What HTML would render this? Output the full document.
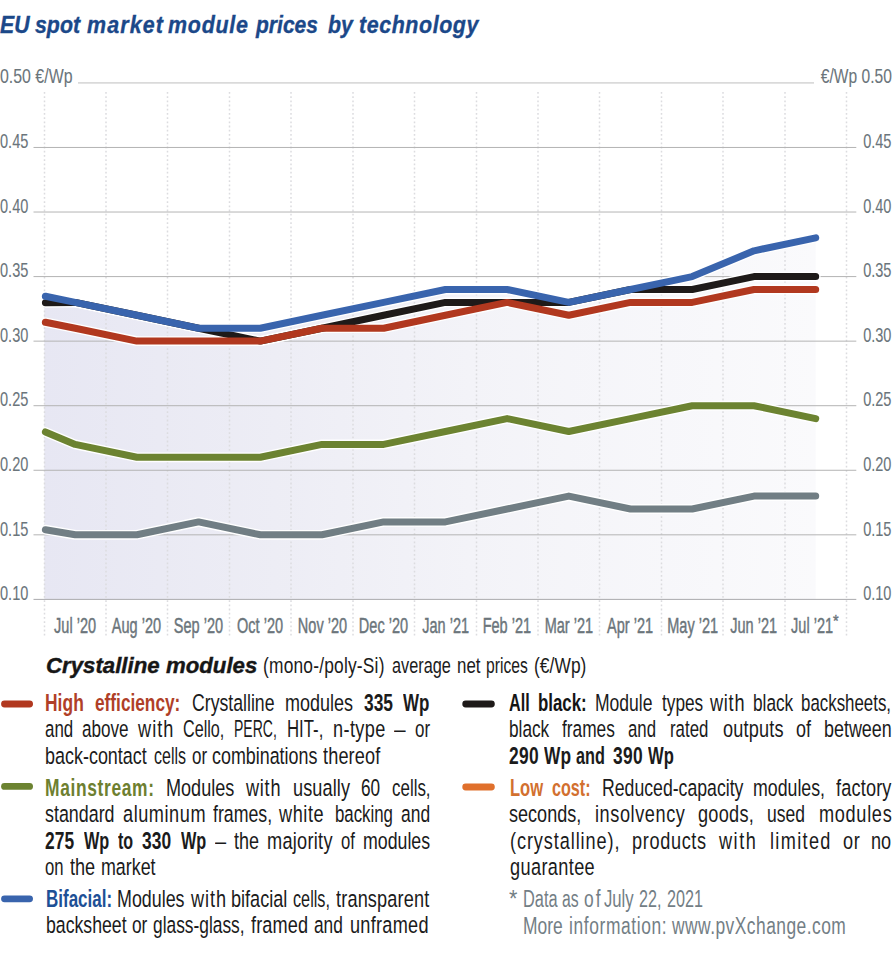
<!DOCTYPE html>
<html><head><meta charset="utf-8"><title>EU spot market module prices by technology</title>
<style>
html,body{margin:0;padding:0;background:#fff;}
body{width:893px;height:967px;position:relative;overflow:hidden;font-family:"Liberation Sans",sans-serif;}
.t{position:absolute;white-space:nowrap;transform-origin:0 0;}
</style></head><body>
<svg width="893" height="967" viewBox="0 0 893 967" style="position:absolute;left:0;top:0">
<defs><linearGradient id="fg" x1="0" y1="0" x2="1" y2="0"><stop offset="0" stop-color="#e7e7f3"/><stop offset="0.3" stop-color="#ededf5"/><stop offset="0.55" stop-color="#f3f3f8"/><stop offset="1" stop-color="#fafafc"/></linearGradient></defs>
<polygon points="44.3,296.3 75.2,302.4 136.9,315.3 198.6,328.2 260.3,328.2 322.0,315.3 383.7,302.4 445.4,289.5 507.1,289.5 568.8,302.4 630.5,289.5 692.2,276.6 754.0,250.8 815.7,237.8 815.7,599.0 44.3,599.0" fill="url(#fg)"/>
<line x1="44.5" y1="92" x2="44.5" y2="636" stroke="#dcdcdf" stroke-width="1.5" stroke-dasharray="1.8 2.4"/>
<line x1="106.0" y1="92" x2="106.0" y2="636" stroke="#dcdcdf" stroke-width="1.5" stroke-dasharray="1.8 2.4"/>
<line x1="167.5" y1="92" x2="167.5" y2="636" stroke="#dcdcdf" stroke-width="1.5" stroke-dasharray="1.8 2.4"/>
<line x1="229.5" y1="92" x2="229.5" y2="636" stroke="#dcdcdf" stroke-width="1.5" stroke-dasharray="1.8 2.4"/>
<line x1="291.0" y1="92" x2="291.0" y2="636" stroke="#dcdcdf" stroke-width="1.5" stroke-dasharray="1.8 2.4"/>
<line x1="353.0" y1="92" x2="353.0" y2="636" stroke="#dcdcdf" stroke-width="1.5" stroke-dasharray="1.8 2.4"/>
<line x1="414.5" y1="92" x2="414.5" y2="636" stroke="#dcdcdf" stroke-width="1.5" stroke-dasharray="1.8 2.4"/>
<line x1="476.5" y1="92" x2="476.5" y2="636" stroke="#dcdcdf" stroke-width="1.5" stroke-dasharray="1.8 2.4"/>
<line x1="538.0" y1="92" x2="538.0" y2="636" stroke="#dcdcdf" stroke-width="1.5" stroke-dasharray="1.8 2.4"/>
<line x1="599.5" y1="92" x2="599.5" y2="636" stroke="#dcdcdf" stroke-width="1.5" stroke-dasharray="1.8 2.4"/>
<line x1="661.5" y1="92" x2="661.5" y2="636" stroke="#dcdcdf" stroke-width="1.5" stroke-dasharray="1.8 2.4"/>
<line x1="723.0" y1="92" x2="723.0" y2="636" stroke="#dcdcdf" stroke-width="1.5" stroke-dasharray="1.8 2.4"/>
<line x1="785.0" y1="92" x2="785.0" y2="636" stroke="#dcdcdf" stroke-width="1.5" stroke-dasharray="1.8 2.4"/>
<line x1="846.5" y1="92" x2="846.5" y2="636" stroke="#dcdcdf" stroke-width="1.5" stroke-dasharray="1.8 2.4"/>
<rect x="78" y="82.15" width="736" height="1.5" fill="#d4d4d4"/>
<rect x="33.5" y="146.96" width="822.8" height="1" fill="#b4b4b4"/>
<rect x="33.5" y="211.52" width="822.8" height="1" fill="#b4b4b4"/>
<rect x="33.5" y="276.08" width="822.8" height="1" fill="#b4b4b4"/>
<rect x="33.5" y="340.64" width="822.8" height="1" fill="#b4b4b4"/>
<rect x="33.5" y="405.20" width="822.8" height="1" fill="#b4b4b4"/>
<rect x="33.5" y="469.76" width="822.8" height="1" fill="#b4b4b4"/>
<rect x="33.5" y="534.32" width="822.8" height="1" fill="#b4b4b4"/>
<rect x="33.5" y="598.88" width="822.8" height="1" fill="#a9a9ad"/>
<polyline points="45.4,302.8 75.2,302.4 136.9,315.3 198.6,328.2 260.3,341.1 322.0,328.2 383.7,315.3 445.4,302.4 507.1,302.4 568.8,302.4 630.5,289.5 692.2,289.5 754.0,276.6 815.7,276.6" fill="none" stroke="#ffffff" stroke-width="9.8" stroke-linejoin="round" stroke-linecap="round"/>
<polyline points="45.4,322.3 75.2,328.2 136.9,341.1 198.6,341.1 260.3,341.1 322.0,328.2 383.7,328.2 445.4,315.3 507.1,302.4 568.8,315.3 630.5,302.4 692.2,302.4 754.0,289.5 815.7,289.5" fill="none" stroke="#ffffff" stroke-width="9.8" stroke-linejoin="round" stroke-linecap="round"/>
<polyline points="45.4,296.3 75.2,302.4 136.9,315.3 198.6,328.2 260.3,328.2 322.0,315.3 383.7,302.4 445.4,289.5 507.1,289.5 568.8,302.4 630.5,289.5 692.2,276.6 754.0,250.8 815.7,237.8" fill="none" stroke="#ffffff" stroke-width="9.8" stroke-linejoin="round" stroke-linecap="round"/>
<polyline points="45.4,431.9 75.2,444.4 136.9,457.3 198.6,457.3 260.3,457.3 322.0,444.4 383.7,444.4 445.4,431.5 507.1,418.6 568.8,431.5 630.5,418.6 692.2,405.7 754.0,405.7 815.7,418.6" fill="none" stroke="#ffffff" stroke-width="9.8" stroke-linejoin="round" stroke-linecap="round"/>
<polyline points="45.4,529.7 75.2,534.8 136.9,534.8 198.6,521.9 260.3,534.8 322.0,534.8 383.7,521.9 445.4,521.9 507.1,509.0 568.8,496.1 630.5,509.0 692.2,509.0 754.0,496.1 815.7,496.1" fill="none" stroke="#ffffff" stroke-width="9.8" stroke-linejoin="round" stroke-linecap="round"/>
<polyline points="45.4,302.8 75.2,302.4 136.9,315.3 198.6,328.2 260.3,341.1 322.0,328.2 383.7,315.3 445.4,302.4 507.1,302.4 568.8,302.4 630.5,289.5 692.2,289.5 754.0,276.6 815.7,276.6" fill="none" stroke="#1e1a19" stroke-width="7" stroke-linejoin="round" stroke-linecap="round"/>
<polyline points="45.4,322.3 75.2,328.2 136.9,341.1 198.6,341.1 260.3,341.1 322.0,328.2 383.7,328.2 445.4,315.3 507.1,302.4 568.8,315.3 630.5,302.4 692.2,302.4 754.0,289.5 815.7,289.5" fill="none" stroke="#b1381f" stroke-width="7" stroke-linejoin="round" stroke-linecap="round"/>
<polyline points="45.4,296.3 75.2,302.4 136.9,315.3 198.6,328.2 260.3,328.2 322.0,315.3 383.7,302.4 445.4,289.5 507.1,289.5 568.8,302.4 630.5,289.5 692.2,276.6 754.0,250.8 815.7,237.8" fill="none" stroke="#3964ad" stroke-width="7" stroke-linejoin="round" stroke-linecap="round"/>
<polyline points="45.4,431.9 75.2,444.4 136.9,457.3 198.6,457.3 260.3,457.3 322.0,444.4 383.7,444.4 445.4,431.5 507.1,418.6 568.8,431.5 630.5,418.6 692.2,405.7 754.0,405.7 815.7,418.6" fill="none" stroke="#6c8331" stroke-width="7" stroke-linejoin="round" stroke-linecap="round"/>
<polyline points="45.4,529.7 75.2,534.8 136.9,534.8 198.6,521.9 260.3,534.8 322.0,534.8 383.7,521.9 445.4,521.9 507.1,509.0 568.8,496.1 630.5,509.0 692.2,509.0 754.0,496.1 815.7,496.1" fill="none" stroke="#717e84" stroke-width="7" stroke-linejoin="round" stroke-linecap="round"/>
<line x1="4.5" y1="704" x2="29.6" y2="704" stroke="#b1381f" stroke-width="6.8" stroke-linecap="round"/>
<line x1="4.5" y1="786.4" x2="29.6" y2="786.4" stroke="#6c8331" stroke-width="6.8" stroke-linecap="round"/>
<line x1="4.5" y1="898.8" x2="29.6" y2="898.8" stroke="#3964ad" stroke-width="6.8" stroke-linecap="round"/>
<line x1="465.7" y1="704" x2="491.4" y2="704" stroke="#1e1a19" stroke-width="6.8" stroke-linecap="round"/>
<line x1="465.7" y1="787" x2="491.4" y2="787" stroke="#e0702c" stroke-width="6.8" stroke-linecap="round"/>
</svg>
<div class="t" style="top:63.49px;font-size:20.8px;line-height:25px;color:#6b757b;left:-0.50px;transform:scaleX(0.7647);-webkit-text-stroke:0.1px #6b757b;">0.50 €/Wp</div>
<div class="t" style="top:63.49px;font-size:20.8px;line-height:25px;color:#6b757b;left:776.50px;width:114.80px;text-align:right;transform:scaleX(0.7489);transform-origin:100% 0;-webkit-text-stroke:0.1px #6b757b;">€/Wp 0.50</div>
<div class="t" style="top:128.15px;font-size:20.8px;line-height:25px;color:#6b757b;left:-0.50px;transform:scaleX(0.7000);-webkit-text-stroke:0.1px #6b757b;">0.45</div>
<div class="t" style="top:128.15px;font-size:20.8px;line-height:25px;color:#6b757b;left:830.82px;width:60.48px;text-align:right;transform:scaleX(0.7000);transform-origin:100% 0;-webkit-text-stroke:0.1px #6b757b;">0.45</div>
<div class="t" style="top:192.71px;font-size:20.8px;line-height:25px;color:#6b757b;left:-0.50px;transform:scaleX(0.7000);-webkit-text-stroke:0.1px #6b757b;">0.40</div>
<div class="t" style="top:192.71px;font-size:20.8px;line-height:25px;color:#6b757b;left:830.82px;width:60.48px;text-align:right;transform:scaleX(0.7000);transform-origin:100% 0;-webkit-text-stroke:0.1px #6b757b;">0.40</div>
<div class="t" style="top:257.27px;font-size:20.8px;line-height:25px;color:#6b757b;left:-0.50px;transform:scaleX(0.7000);-webkit-text-stroke:0.1px #6b757b;">0.35</div>
<div class="t" style="top:257.27px;font-size:20.8px;line-height:25px;color:#6b757b;left:830.82px;width:60.48px;text-align:right;transform:scaleX(0.7000);transform-origin:100% 0;-webkit-text-stroke:0.1px #6b757b;">0.35</div>
<div class="t" style="top:321.83px;font-size:20.8px;line-height:25px;color:#6b757b;left:-0.50px;transform:scaleX(0.7000);-webkit-text-stroke:0.1px #6b757b;">0.30</div>
<div class="t" style="top:321.83px;font-size:20.8px;line-height:25px;color:#6b757b;left:830.82px;width:60.48px;text-align:right;transform:scaleX(0.7000);transform-origin:100% 0;-webkit-text-stroke:0.1px #6b757b;">0.30</div>
<div class="t" style="top:386.39px;font-size:20.8px;line-height:25px;color:#6b757b;left:-0.50px;transform:scaleX(0.7000);-webkit-text-stroke:0.1px #6b757b;">0.25</div>
<div class="t" style="top:386.39px;font-size:20.8px;line-height:25px;color:#6b757b;left:830.82px;width:60.48px;text-align:right;transform:scaleX(0.7000);transform-origin:100% 0;-webkit-text-stroke:0.1px #6b757b;">0.25</div>
<div class="t" style="top:450.95px;font-size:20.8px;line-height:25px;color:#6b757b;left:-0.50px;transform:scaleX(0.7000);-webkit-text-stroke:0.1px #6b757b;">0.20</div>
<div class="t" style="top:450.95px;font-size:20.8px;line-height:25px;color:#6b757b;left:830.82px;width:60.48px;text-align:right;transform:scaleX(0.7000);transform-origin:100% 0;-webkit-text-stroke:0.1px #6b757b;">0.20</div>
<div class="t" style="top:515.51px;font-size:20.8px;line-height:25px;color:#6b757b;left:-0.50px;transform:scaleX(0.7000);-webkit-text-stroke:0.1px #6b757b;">0.15</div>
<div class="t" style="top:515.51px;font-size:20.8px;line-height:25px;color:#6b757b;left:830.82px;width:60.48px;text-align:right;transform:scaleX(0.7000);transform-origin:100% 0;-webkit-text-stroke:0.1px #6b757b;">0.15</div>
<div class="t" style="top:580.07px;font-size:20.8px;line-height:25px;color:#6b757b;left:-0.50px;transform:scaleX(0.7000);-webkit-text-stroke:0.1px #6b757b;">0.10</div>
<div class="t" style="top:580.07px;font-size:20.8px;line-height:25px;color:#6b757b;left:830.82px;width:60.48px;text-align:right;transform:scaleX(0.7000);transform-origin:100% 0;-webkit-text-stroke:0.1px #6b757b;">0.10</div>
<div class="t" style="top:612.55px;font-size:21.5px;line-height:26px;color:#6b757b;left:24.08px;width:102.15px;text-align:center;transform:scaleX(0.6750);transform-origin:50% 0;-webkit-text-stroke:0.45px #6b757b;">Jul ’20</div>
<div class="t" style="top:612.55px;font-size:21.5px;line-height:26px;color:#6b757b;left:80.40px;width:112.92px;text-align:center;transform:scaleX(0.6750);transform-origin:50% 0;-webkit-text-stroke:0.45px #6b757b;">Aug ’20</div>
<div class="t" style="top:612.55px;font-size:21.5px;line-height:26px;color:#6b757b;left:142.11px;width:112.92px;text-align:center;transform:scaleX(0.6750);transform-origin:50% 0;-webkit-text-stroke:0.45px #6b757b;">Sep ’20</div>
<div class="t" style="top:612.55px;font-size:21.5px;line-height:26px;color:#6b757b;left:206.23px;width:108.11px;text-align:center;transform:scaleX(0.6750);transform-origin:50% 0;-webkit-text-stroke:0.45px #6b757b;">Oct ’20</div>
<div class="t" style="top:612.55px;font-size:21.5px;line-height:26px;color:#6b757b;left:265.54px;width:112.90px;text-align:center;transform:scaleX(0.6750);transform-origin:50% 0;-webkit-text-stroke:0.45px #6b757b;">Nov ’20</div>
<div class="t" style="top:612.55px;font-size:21.5px;line-height:26px;color:#6b757b;left:327.25px;width:112.90px;text-align:center;transform:scaleX(0.6750);transform-origin:50% 0;-webkit-text-stroke:0.45px #6b757b;">Dec ’20</div>
<div class="t" style="top:612.55px;font-size:21.5px;line-height:26px;color:#6b757b;left:390.75px;width:109.32px;text-align:center;transform:scaleX(0.6750);transform-origin:50% 0;-webkit-text-stroke:0.45px #6b757b;">Jan ’21</div>
<div class="t" style="top:612.55px;font-size:21.5px;line-height:26px;color:#6b757b;left:451.27px;width:111.71px;text-align:center;transform:scaleX(0.6750);transform-origin:50% 0;-webkit-text-stroke:0.45px #6b757b;">Feb ’21</div>
<div class="t" style="top:612.55px;font-size:21.5px;line-height:26px;color:#6b757b;left:512.99px;width:111.69px;text-align:center;transform:scaleX(0.6750);transform-origin:50% 0;-webkit-text-stroke:0.45px #6b757b;">Mar ’21</div>
<div class="t" style="top:612.55px;font-size:21.5px;line-height:26px;color:#6b757b;left:576.48px;width:108.12px;text-align:center;transform:scaleX(0.6750);transform-origin:50% 0;-webkit-text-stroke:0.45px #6b757b;">Apr ’21</div>
<div class="t" style="top:612.55px;font-size:21.5px;line-height:26px;color:#6b757b;left:634.61px;width:115.28px;text-align:center;transform:scaleX(0.6750);transform-origin:50% 0;-webkit-text-stroke:0.45px #6b757b;">May ’21</div>
<div class="t" style="top:612.55px;font-size:21.5px;line-height:26px;color:#6b757b;left:699.30px;width:109.32px;text-align:center;transform:scaleX(0.6750);transform-origin:50% 0;-webkit-text-stroke:0.45px #6b757b;">Jun ’21</div>
<div class="t" style="top:612.55px;font-size:21.5px;line-height:26px;color:#6b757b;left:760.60px;width:102.15px;text-align:center;transform:scaleX(0.6750);transform-origin:50% 0;-webkit-text-stroke:0.45px #6b757b;">Jul ’21</div>
<div class="t" style="left:832.8px;top:614.06px;font-size:16px;line-height:16px;color:#6b757b;transform:scaleX(0.9);-webkit-text-stroke:0.4px #6b757b;">*</div>
<div class="t" style="left:45.40px;top:687.81px;font-size:24.5px;line-height:29px;color:#b03f28;transform:scaleX(0.7100);letter-spacing:0.086px;font-weight:bold;">High</div>
<div class="t" style="left:94.90px;top:687.81px;font-size:24.5px;line-height:29px;color:#b03f28;transform:scaleX(0.7042);font-weight:bold;">efficiency:</div>
<div class="t" style="left:191.70px;top:687.81px;font-size:24.5px;line-height:29px;color:#1b1b1b;transform:scaleX(0.7211);">Crystalline</div>
<div class="t" style="left:285.40px;top:687.81px;font-size:24.5px;line-height:29px;color:#1b1b1b;transform:scaleX(0.7343);">modules</div>
<div class="t" style="left:363.50px;top:687.81px;font-size:24.5px;line-height:29px;color:#1b1b1b;transform:scaleX(0.7100);font-weight:bold;">335</div>
<div class="t" style="left:403.30px;top:687.81px;font-size:24.5px;line-height:29px;color:#1b1b1b;transform:scaleX(0.6926);font-weight:bold;">Wp</div>
<div class="t" style="left:45.40px;top:714.31px;font-size:24.5px;line-height:29px;color:#1b1b1b;transform:scaleX(0.6892);">and</div>
<div class="t" style="left:82.00px;top:714.31px;font-size:24.5px;line-height:29px;color:#1b1b1b;transform:scaleX(0.6978);">above</div>
<div class="t" style="left:137.58px;top:714.31px;font-size:24.5px;line-height:29px;color:#1b1b1b;transform:scaleX(0.7400);letter-spacing:1.418px;">with</div>
<div class="t" style="left:182.60px;top:714.31px;font-size:24.5px;line-height:29px;color:#1b1b1b;transform:scaleX(0.6601);">Cello,</div>
<div class="t" style="left:234.10px;top:714.31px;font-size:24.5px;line-height:29px;color:#1b1b1b;transform:scaleX(0.5722);">PERC,</div>
<div class="t" style="left:287.00px;top:714.31px;font-size:24.5px;line-height:29px;color:#1b1b1b;transform:scaleX(0.6847);">HIT-,</div>
<div class="t" style="left:333.00px;top:714.31px;font-size:24.5px;line-height:29px;color:#1b1b1b;transform:scaleX(0.7400);letter-spacing:0.540px;">n-type</div>
<div class="t" style="left:393.80px;top:714.31px;font-size:24.5px;line-height:29px;color:#1b1b1b;transform:scaleX(0.8528);">–</div>
<div class="t" style="left:414.50px;top:714.31px;font-size:24.5px;line-height:29px;color:#1b1b1b;transform:scaleX(0.6925);">or</div>
<div class="t" style="left:45.40px;top:740.81px;font-size:24.5px;line-height:29px;color:#1b1b1b;transform:scaleX(0.7328);">back-contact</div>
<div class="t" style="left:154.00px;top:740.81px;font-size:24.5px;line-height:29px;color:#1b1b1b;transform:scaleX(0.6531);">cells</div>
<div class="t" style="left:191.60px;top:740.81px;font-size:24.5px;line-height:29px;color:#1b1b1b;transform:scaleX(0.6925);">or</div>
<div class="t" style="left:212.00px;top:740.81px;font-size:24.5px;line-height:29px;color:#1b1b1b;transform:scaleX(0.7297);">combinations</div>
<div class="t" style="left:322.90px;top:740.81px;font-size:24.5px;line-height:29px;color:#1b1b1b;transform:scaleX(0.7400);letter-spacing:0.188px;">thereof</div>
<div class="t" style="left:45.00px;top:772.91px;font-size:24.5px;line-height:29px;color:#6e7f30;transform:scaleX(0.7100);letter-spacing:0.922px;font-weight:bold;">Mainstream:</div>
<div class="t" style="left:166.30px;top:772.91px;font-size:24.5px;line-height:29px;color:#1b1b1b;transform:scaleX(0.7375);">Modules</div>
<div class="t" style="left:246.38px;top:772.91px;font-size:24.5px;line-height:29px;color:#1b1b1b;transform:scaleX(0.7400);letter-spacing:1.012px;">with</div>
<div class="t" style="left:293.20px;top:772.91px;font-size:24.5px;line-height:29px;color:#1b1b1b;transform:scaleX(0.7400);letter-spacing:0.116px;">usually</div>
<div class="t" style="left:360.70px;top:772.91px;font-size:24.5px;line-height:29px;color:#1b1b1b;transform:scaleX(0.7023);">60</div>
<div class="t" style="left:391.50px;top:772.91px;font-size:24.5px;line-height:29px;color:#1b1b1b;transform:scaleX(0.6910);">cells,</div>
<div class="t" style="left:45.00px;top:799.31px;font-size:24.5px;line-height:29px;color:#1b1b1b;transform:scaleX(0.7292);">standard</div>
<div class="t" style="left:122.60px;top:799.31px;font-size:24.5px;line-height:29px;color:#1b1b1b;transform:scaleX(0.7400);letter-spacing:0.752px;">aluminum</div>
<div class="t" style="left:212.80px;top:799.31px;font-size:24.5px;line-height:29px;color:#1b1b1b;transform:scaleX(0.7244);">frames,</div>
<div class="t" style="left:279.38px;top:799.31px;font-size:24.5px;line-height:29px;color:#1b1b1b;transform:scaleX(0.7400);letter-spacing:0.803px;">white</div>
<div class="t" style="left:334.60px;top:799.31px;font-size:24.5px;line-height:29px;color:#1b1b1b;transform:scaleX(0.6862);">backing</div>
<div class="t" style="left:400.50px;top:799.31px;font-size:24.5px;line-height:29px;color:#1b1b1b;transform:scaleX(0.7112);">and</div>
<div class="t" style="left:45.00px;top:825.61px;font-size:24.5px;line-height:29px;color:#1b1b1b;transform:scaleX(0.7100);letter-spacing:0.106px;font-weight:bold;">275</div>
<div class="t" style="left:83.70px;top:825.61px;font-size:24.5px;line-height:29px;color:#1b1b1b;transform:scaleX(0.6636);font-weight:bold;">Wp</div>
<div class="t" style="left:118.40px;top:825.61px;font-size:24.5px;line-height:29px;color:#1b1b1b;transform:scaleX(0.6557);font-weight:bold;">to</div>
<div class="t" style="left:142.20px;top:825.61px;font-size:24.5px;line-height:29px;color:#1b1b1b;transform:scaleX(0.7100);letter-spacing:0.106px;font-weight:bold;">330</div>
<div class="t" style="left:180.90px;top:825.61px;font-size:24.5px;line-height:29px;color:#1b1b1b;transform:scaleX(0.6636);font-weight:bold;">Wp</div>
<div class="t" style="left:214.50px;top:825.61px;font-size:24.5px;line-height:29px;color:#1b1b1b;transform:scaleX(0.8163);">–</div>
<div class="t" style="left:233.50px;top:825.61px;font-size:24.5px;line-height:29px;color:#1b1b1b;transform:scaleX(0.7341);">the</div>
<div class="t" style="left:266.90px;top:825.61px;font-size:24.5px;line-height:29px;color:#1b1b1b;transform:scaleX(0.7400);letter-spacing:0.395px;">majority</div>
<div class="t" style="left:341.10px;top:825.61px;font-size:24.5px;line-height:29px;color:#1b1b1b;transform:scaleX(0.6803);">of</div>
<div class="t" style="left:363.00px;top:825.61px;font-size:24.5px;line-height:29px;color:#1b1b1b;transform:scaleX(0.7245);">modules</div>
<div class="t" style="left:45.00px;top:851.81px;font-size:24.5px;line-height:29px;color:#1b1b1b;transform:scaleX(0.6803);">on</div>
<div class="t" style="left:69.70px;top:851.81px;font-size:24.5px;line-height:29px;color:#1b1b1b;transform:scaleX(0.7400);">the</div>
<div class="t" style="left:100.50px;top:851.81px;font-size:24.5px;line-height:29px;color:#1b1b1b;transform:scaleX(0.7283);">market</div>
<div class="t" style="left:45.60px;top:883.51px;font-size:24.5px;line-height:29px;color:#1d5096;transform:scaleX(0.6936);font-weight:bold;">Bifacial:</div>
<div class="t" style="left:117.30px;top:883.51px;font-size:24.5px;line-height:29px;color:#1b1b1b;transform:scaleX(0.7289);">Modules</div>
<div class="t" style="left:190.58px;top:883.51px;font-size:24.5px;line-height:29px;color:#1b1b1b;transform:scaleX(0.7400);letter-spacing:1.283px;">with</div>
<div class="t" style="left:231.30px;top:883.51px;font-size:24.5px;line-height:29px;color:#1b1b1b;transform:scaleX(0.7389);">bifacial</div>
<div class="t" style="left:292.60px;top:883.51px;font-size:24.5px;line-height:29px;color:#1b1b1b;transform:scaleX(0.6624);">cells,</div>
<div class="t" style="left:336.30px;top:883.51px;font-size:24.5px;line-height:29px;color:#1b1b1b;transform:scaleX(0.7400);letter-spacing:0.211px;">transparent</div>
<div class="t" style="left:45.60px;top:909.91px;font-size:24.5px;line-height:29px;color:#1b1b1b;transform:scaleX(0.7214);">backsheet</div>
<div class="t" style="left:132.00px;top:909.91px;font-size:24.5px;line-height:29px;color:#1b1b1b;transform:scaleX(0.7063);">or</div>
<div class="t" style="left:153.40px;top:909.91px;font-size:24.5px;line-height:29px;color:#1b1b1b;transform:scaleX(0.7081);">glass-glass,</div>
<div class="t" style="left:250.60px;top:909.91px;font-size:24.5px;line-height:29px;color:#1b1b1b;transform:scaleX(0.7400);letter-spacing:0.193px;">framed</div>
<div class="t" style="left:313.90px;top:909.91px;font-size:24.5px;line-height:29px;color:#1b1b1b;transform:scaleX(0.7063);">and</div>
<div class="t" style="left:349.50px;top:909.91px;font-size:24.5px;line-height:29px;color:#1b1b1b;transform:scaleX(0.7400);letter-spacing:0.365px;">unframed</div>
<div class="t" style="left:509.20px;top:687.81px;font-size:24.5px;line-height:29px;color:#141414;transform:scaleX(0.6601);font-weight:bold;">All</div>
<div class="t" style="left:537.70px;top:687.81px;font-size:24.5px;line-height:29px;color:#141414;transform:scaleX(0.6878);font-weight:bold;">black:</div>
<div class="t" style="left:594.80px;top:687.81px;font-size:24.5px;line-height:29px;color:#1b1b1b;transform:scaleX(0.7155);">Module</div>
<div class="t" style="left:661.80px;top:687.81px;font-size:24.5px;line-height:29px;color:#1b1b1b;transform:scaleX(0.7036);">types</div>
<div class="t" style="left:710.48px;top:687.81px;font-size:24.5px;line-height:29px;color:#1b1b1b;transform:scaleX(0.7400);letter-spacing:1.012px;">with</div>
<div class="t" style="left:753.40px;top:687.81px;font-size:24.5px;line-height:29px;color:#1b1b1b;transform:scaleX(0.7029);">black</div>
<div class="t" style="left:801.40px;top:687.81px;font-size:24.5px;line-height:29px;color:#1b1b1b;transform:scaleX(0.6887);">backsheets,</div>
<div class="t" style="left:509.20px;top:714.31px;font-size:24.5px;line-height:29px;color:#1b1b1b;transform:scaleX(0.7029);">black</div>
<div class="t" style="left:562.40px;top:714.31px;font-size:24.5px;line-height:29px;color:#1b1b1b;transform:scaleX(0.7056);">frames</div>
<div class="t" style="left:628.20px;top:714.31px;font-size:24.5px;line-height:29px;color:#1b1b1b;transform:scaleX(0.6843);">and</div>
<div class="t" style="left:670.20px;top:714.31px;font-size:24.5px;line-height:29px;color:#1b1b1b;transform:scaleX(0.6874);">rated</div>
<div class="t" style="left:722.60px;top:714.31px;font-size:24.5px;line-height:29px;color:#1b1b1b;transform:scaleX(0.7400);letter-spacing:0.233px;">outputs</div>
<div class="t" style="left:795.80px;top:714.31px;font-size:24.5px;line-height:29px;color:#1b1b1b;transform:scaleX(0.7337);">of</div>
<div class="t" style="left:823.80px;top:714.31px;font-size:24.5px;line-height:29px;color:#1b1b1b;transform:scaleX(0.7310);">between</div>
<div class="t" style="left:509.20px;top:740.81px;font-size:24.5px;line-height:29px;color:#1b1b1b;transform:scaleX(0.7100);letter-spacing:0.388px;font-weight:bold;">290</div>
<div class="t" style="left:544.40px;top:740.81px;font-size:24.5px;line-height:29px;color:#1b1b1b;transform:scaleX(0.7084);font-weight:bold;">Wp</div>
<div class="t" style="left:575.80px;top:740.81px;font-size:24.5px;line-height:29px;color:#1b1b1b;transform:scaleX(0.6627);font-weight:bold;">and</div>
<div class="t" style="left:613.10px;top:740.81px;font-size:24.5px;line-height:29px;color:#1b1b1b;transform:scaleX(0.7100);letter-spacing:0.458px;font-weight:bold;">390</div>
<div class="t" style="left:648.40px;top:740.81px;font-size:24.5px;line-height:29px;color:#1b1b1b;transform:scaleX(0.6768);font-weight:bold;">Wp</div>
<div class="t" style="left:509.70px;top:772.91px;font-size:24.5px;line-height:29px;color:#d2702f;transform:scaleX(0.6755);font-weight:bold;">Low</div>
<div class="t" style="left:552.30px;top:772.91px;font-size:24.5px;line-height:29px;color:#d2702f;transform:scaleX(0.6592);font-weight:bold;">cost:</div>
<div class="t" style="left:602.00px;top:772.91px;font-size:24.5px;line-height:29px;color:#1b1b1b;transform:scaleX(0.7209);">Reduced-capacity</div>
<div class="t" style="left:753.40px;top:772.91px;font-size:24.5px;line-height:29px;color:#1b1b1b;transform:scaleX(0.7248);">modules,</div>
<div class="t" style="left:836.10px;top:772.91px;font-size:24.5px;line-height:29px;color:#1b1b1b;transform:scaleX(0.7400);letter-spacing:0.227px;">factory</div>
<div class="t" style="left:509.20px;top:799.31px;font-size:24.5px;line-height:29px;color:#1b1b1b;transform:scaleX(0.7367);">seconds,</div>
<div class="t" style="left:594.80px;top:799.31px;font-size:24.5px;line-height:29px;color:#1b1b1b;transform:scaleX(0.7400);letter-spacing:0.786px;">insolvency</div>
<div class="t" style="left:698.20px;top:799.31px;font-size:24.5px;line-height:29px;color:#1b1b1b;transform:scaleX(0.7400);letter-spacing:0.381px;">goods,</div>
<div class="t" style="left:766.80px;top:799.31px;font-size:24.5px;line-height:29px;color:#1b1b1b;transform:scaleX(0.7148);">used</div>
<div class="t" style="left:818.80px;top:799.31px;font-size:24.5px;line-height:29px;color:#1b1b1b;transform:scaleX(0.7400);letter-spacing:0.939px;">modules</div>
<div class="t" style="left:509.70px;top:825.61px;font-size:24.5px;line-height:29px;color:#1b1b1b;transform:scaleX(0.7400);letter-spacing:1.224px;">(crystalline),</div>
<div class="t" style="left:631.60px;top:825.61px;font-size:24.5px;line-height:29px;color:#1b1b1b;transform:scaleX(0.7400);letter-spacing:0.884px;">products</div>
<div class="t" style="left:719.38px;top:825.61px;font-size:24.5px;line-height:29px;color:#1b1b1b;transform:scaleX(0.7400);letter-spacing:2.048px;">with</div>
<div class="t" style="left:769.60px;top:825.61px;font-size:24.5px;line-height:29px;color:#1b1b1b;transform:scaleX(0.7400);letter-spacing:1.803px;">limited</div>
<div class="t" style="left:842.80px;top:825.61px;font-size:24.5px;line-height:29px;color:#1b1b1b;transform:scaleX(0.7400);letter-spacing:0.898px;">or</div>
<div class="t" style="left:871.40px;top:825.61px;font-size:24.5px;line-height:29px;color:#1b1b1b;transform:scaleX(0.7391);">no</div>
<div class="t" style="left:509.70px;top:851.81px;font-size:24.5px;line-height:29px;color:#1b1b1b;transform:scaleX(0.7400);letter-spacing:0.509px;">guarantee</div>
<div class="t" style="left:509.20px;top:885.16px;font-size:23.5px;line-height:28px;color:#737e85;transform:scaleX(0.9165);">*</div>
<div class="t" style="left:523.20px;top:885.16px;font-size:23.5px;line-height:28px;color:#737e85;transform:scaleX(0.6965);">Data</div>
<div class="t" style="left:562.40px;top:885.16px;font-size:23.5px;line-height:28px;color:#737e85;transform:scaleX(0.6704);">as</div>
<div class="t" style="left:583.60px;top:885.16px;font-size:23.5px;line-height:28px;color:#737e85;transform:scaleX(0.7400);letter-spacing:2.963px;">of</div>
<div class="t" style="left:603.90px;top:885.16px;font-size:23.5px;line-height:28px;color:#737e85;transform:scaleX(0.7100);">July</div>
<div class="t" style="left:638.60px;top:885.16px;font-size:23.5px;line-height:28px;color:#737e85;transform:scaleX(0.6857);">22,</div>
<div class="t" style="left:666.60px;top:885.16px;font-size:23.5px;line-height:28px;color:#737e85;transform:scaleX(0.6881);">2021</div>
<div class="t" style="left:523.20px;top:911.56px;font-size:23.5px;line-height:28px;color:#737e85;transform:scaleX(0.7400);">More</div>
<div class="t" style="left:568.50px;top:911.56px;font-size:23.5px;line-height:28px;color:#737e85;transform:scaleX(0.7400);letter-spacing:0.838px;">information:</div>
<div class="t" style="left:672.37px;top:911.56px;font-size:23.5px;line-height:28px;color:#737e85;transform:scaleX(0.7400);letter-spacing:0.640px;">www.pvXchange.com</div>
<div class="t" style="left:0.00px;top:10.25px;font-size:23.8px;line-height:29px;color:#1b4889;transform:scaleX(0.8936);font-weight:bold;font-style:italic;-webkit-text-stroke:0.35px #1b4889;">EU</div>
<div class="t" style="left:34.70px;top:10.25px;font-size:23.8px;line-height:29px;color:#1b4889;transform:scaleX(0.8970);font-weight:bold;font-style:italic;-webkit-text-stroke:0.35px #1b4889;">spot</div>
<div class="t" style="left:86.70px;top:10.25px;font-size:23.8px;line-height:29px;color:#1b4889;transform:scaleX(0.9000);letter-spacing:1.241px;font-weight:bold;font-style:italic;-webkit-text-stroke:0.35px #1b4889;">market</div>
<div class="t" style="left:168.40px;top:10.25px;font-size:23.8px;line-height:29px;color:#1b4889;transform:scaleX(0.9000);letter-spacing:0.854px;font-weight:bold;font-style:italic;-webkit-text-stroke:0.35px #1b4889;">module</div>
<div class="t" style="left:255.73px;top:10.25px;font-size:23.8px;line-height:29px;color:#1b4889;transform:scaleX(0.8840);font-weight:bold;font-style:italic;-webkit-text-stroke:0.35px #1b4889;">prices</div>
<div class="t" style="left:328.40px;top:10.25px;font-size:23.8px;line-height:29px;color:#1b4889;transform:scaleX(0.8959);font-weight:bold;font-style:italic;-webkit-text-stroke:0.35px #1b4889;">by</div>
<div class="t" style="left:358.60px;top:10.25px;font-size:23.8px;line-height:29px;color:#1b4889;transform:scaleX(0.9000);letter-spacing:0.637px;font-weight:bold;font-style:italic;-webkit-text-stroke:0.35px #1b4889;">technology</div>
<div class="t" style="left:45.60px;top:653.38px;font-size:22px;line-height:26px;color:#161616;transform:scaleX(1.0096);font-weight:bold;font-style:italic;-webkit-text-stroke:0.4px #161616;">Crystalline</div>
<div class="t" style="left:165.80px;top:653.38px;font-size:22px;line-height:26px;color:#161616;transform:scaleX(1.0086);font-weight:bold;font-style:italic;-webkit-text-stroke:0.4px #161616;">modules</div>
<div class="t" style="left:263.10px;top:653.18px;font-size:21.7px;line-height:26px;color:#1b1b1b;transform:scaleX(0.8000);letter-spacing:0.253px;">(mono-/poly-Si)</div>
<div class="t" style="left:392.20px;top:653.18px;font-size:21.7px;line-height:26px;color:#1b1b1b;transform:scaleX(0.7506);">average</div>
<div class="t" style="left:456.60px;top:653.18px;font-size:21.7px;line-height:26px;color:#1b1b1b;transform:scaleX(0.7791);">net</div>
<div class="t" style="left:486.20px;top:653.18px;font-size:21.7px;line-height:26px;color:#1b1b1b;transform:scaleX(0.7214);">prices</div>
<div class="t" style="left:534.20px;top:653.18px;font-size:21.7px;line-height:26px;color:#1b1b1b;transform:scaleX(0.8000);letter-spacing:0.080px;">(€/Wp)</div>
</body></html>
